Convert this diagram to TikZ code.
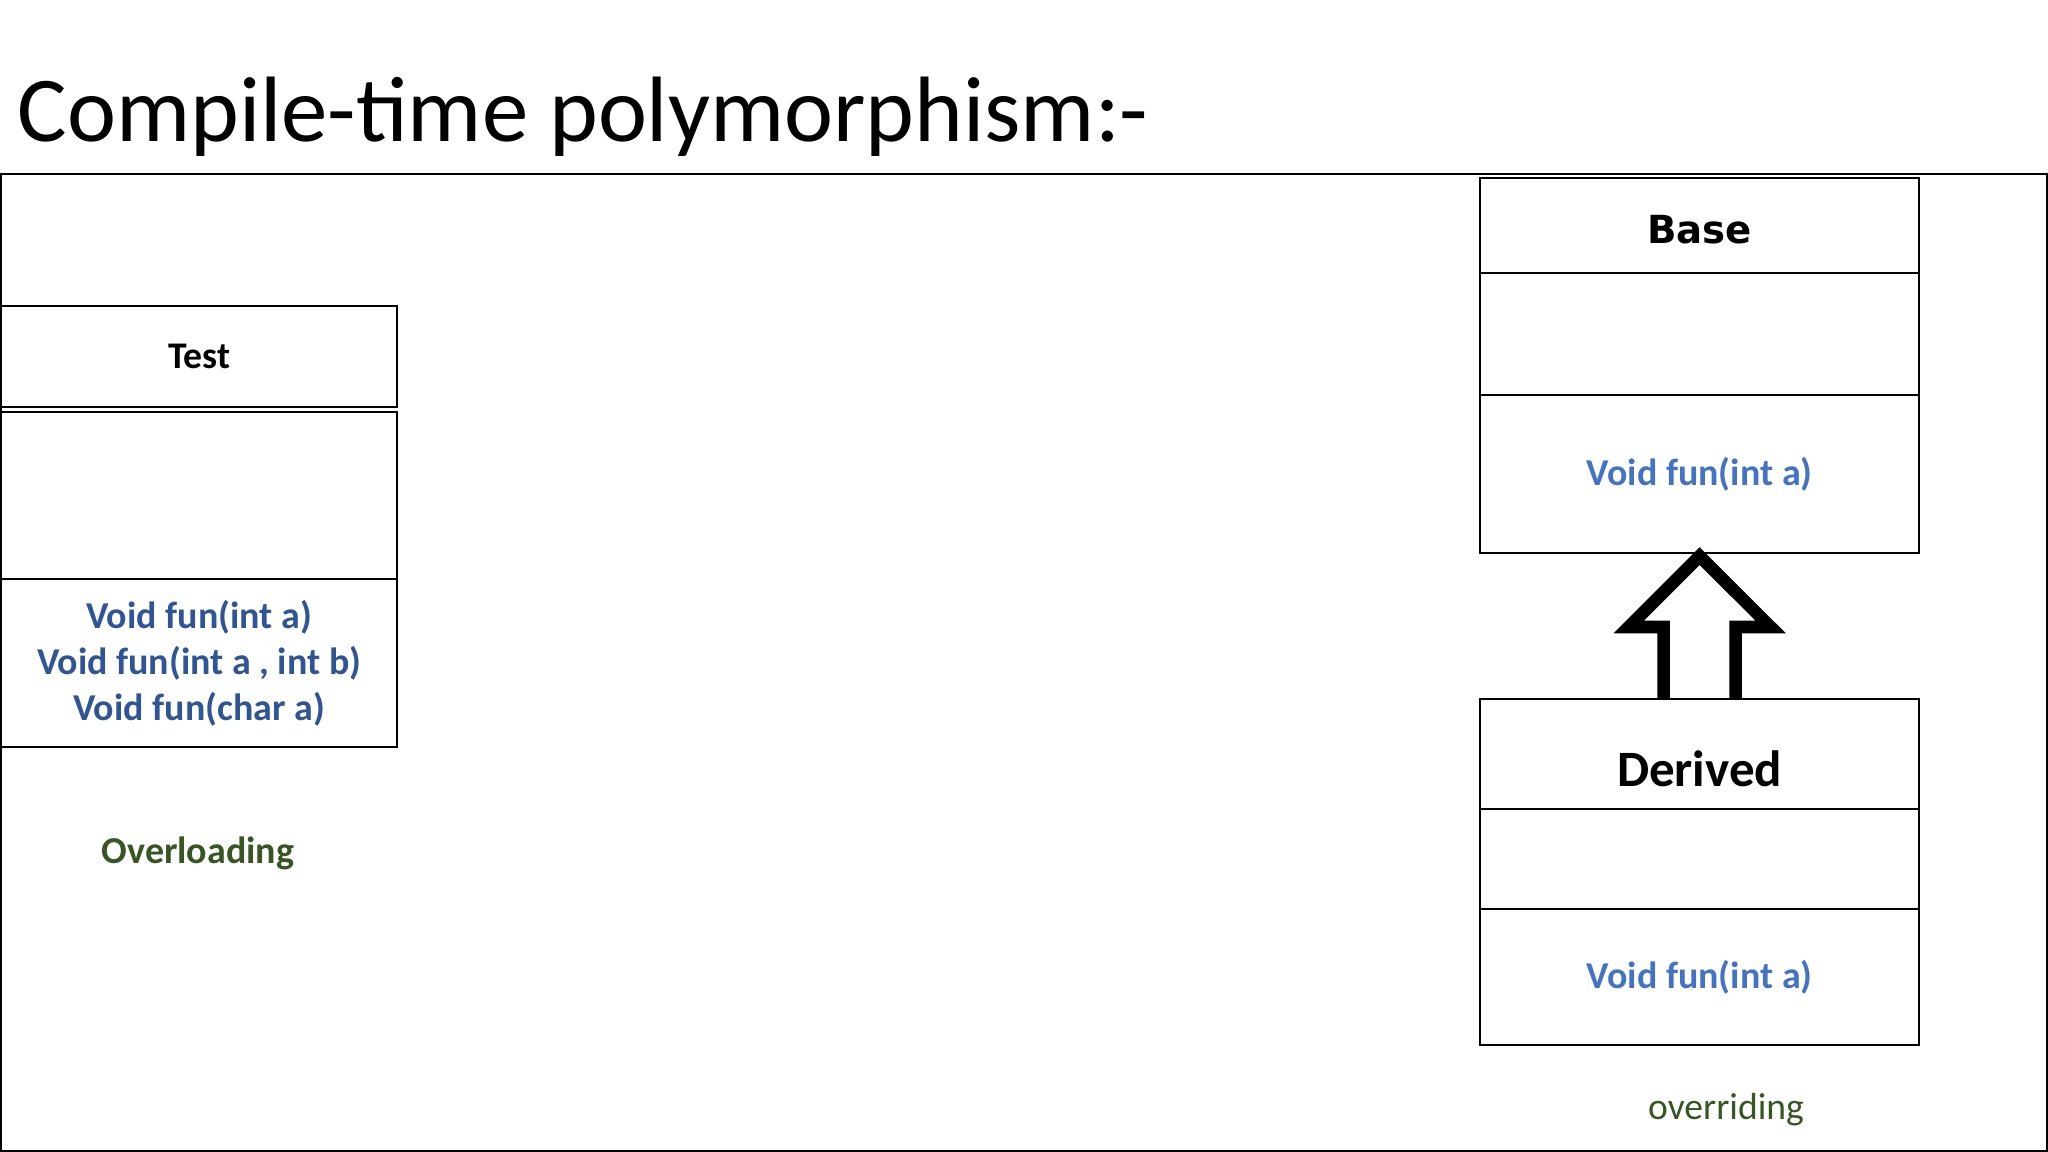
\documentclass[tikz,border=0pt]{standalone}
\usepackage{fontspec}
\setmainfont{Carlito}
\newfontfamily\heavyfont{DejaVu Sans}
\usetikzlibrary{calc,positioning}
\definecolor{MethodBlue}{RGB}{47,85,151}
\definecolor{PaleBlue}{RGB}{68,114,196}
\definecolor{LeafGreen}{RGB}{55,86,35}

\tikzset{
  compart/.style={draw,line width=0.6pt,anchor=north west,inner sep=0pt,
    outer sep=0pt,align=center},
  leftcls/.style={compart,minimum width=3.96cm},
  rightcls/.style={compart,minimum width=4.39cm},
  methtext/.style={font=\bfseries\fontsize{10.8}{13.1}\selectfont}
}

\begin{document}
\begin{tikzpicture}[x=0.01cm,y=-0.01cm]
  \useasboundingbox (0,0) rectangle (2048,1152);
  \node[anchor=base west,inner sep=0pt,font=\fontsize{26.4}{30}\selectfont]
    (title) at (17,142) {Compile-time polymorphism:-};
  \draw[line width=0.6pt] (1,174) rectangle (2047,1151);

  % overloading: one class
  \node[leftcls,minimum height=1.01cm,font=\bfseries\fontsize{10.7}{12}\selectfont]
    (testhead) at (1,306) {Test};
  \node[leftcls,minimum height=1.67cm] (testattr) at (1,412) {};
  \node[leftcls,minimum height=1.68cm,methtext,text=MethodBlue] (testops) at (1,579)
    {Void fun(int a)\\Void fun(int a , int b)\\Void fun(char a)};
  \node[font=\bfseries\fontsize{10.8}{13}\selectfont,text=LeafGreen]
    (overload) at (198,853) {Overloading};

  % overriding: base and derived
  \node[rightcls,minimum height=0.95cm,text height=10.2pt,text depth=0pt,
    font=\heavyfont\bfseries\fontsize{11}{12}\selectfont]
    (basehead) at (1480,178) {Base};
  \node[rightcls,minimum height=1.22cm] (baseattr) at (1480,273) {};
  \node[rightcls,minimum height=1.58cm,methtext,text=PaleBlue] (baseops) at (1480,395)
    {Void fun(int a)};

  \node[rightcls,minimum height=1.10cm] (derivedhead) at (1480,699) {};
  \node[font=\bfseries\fontsize{14.5}{16}\selectfont]
    (derivedname) at ($(derivedhead.center)+(0,15)$) {Derived};
  \node[rightcls,minimum height=1.00cm] (derivedattr) at (1480,809) {};
  \node[rightcls,minimum height=1.36cm,methtext,text=PaleBlue] (derivedops) at (1480,909)
    {Void fun(int a)};
  \node[anchor=base,font=\fontsize{10.7}{13}\selectfont,text=LeafGreen]
    (override) at (1726,1119) {overriding};

  % hollow inheritance arrow
  \draw[line width=3.56pt,miter limit=10]
    ($(derivedhead.north)+(-36,0)$) -- ($(derivedhead.north)+(-36,-72)$)
    -- ($(derivedhead.north)+(-71,-72)$) -- ($(baseops.south)+(0,3)$)
    -- ($(derivedhead.north)+(71,-72)$) -- ($(derivedhead.north)+(36,-72)$)
    -- ($(derivedhead.north)+(36,0)$);
\end{tikzpicture}
\end{document}
